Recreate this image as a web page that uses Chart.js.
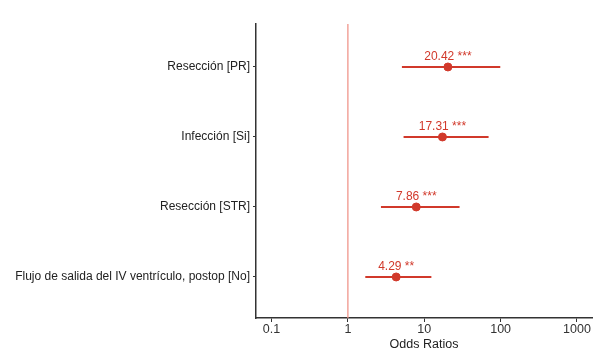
<!DOCTYPE html>
<html>
<head>
<meta charset="utf-8">
<script src="https://cdn.jsdelivr.net/npm/chart.js@4.4.1/dist/chart.umd.min.js"></script>
<style>
  html, body { margin: 0; padding: 0; background: #fff; }
  #wrap { width: 600px; height: 361px; }
</style>
</head>
<body>
<div id="wrap"><canvas id="chart" width="600" height="361"></canvas></div>
<script>
// data (bottom row first)
const categories = [
  "Flujo de salida del IV ventrículo, postop [No]",
  "Resección [STR]",
  "Infección [Si]",
  "Resección [PR]"
];
const oddsRatios = [4.29, 7.86, 17.31, 20.42];
const ciLow = [1.69, 2.71, 5.36, 5.1];
const ciHigh = [12.4, 29.0, 69.6, 99];
const stars = ["**", "***", "***", "***"];
const xTicks = [0.1, 1, 10, 100, 1000];

const red = "#d1392b";
const ctx = document.getElementById("chart").getContext("2d");

// one line dataset per confidence interval
const ciSets = categories.map((c, i) => ({
  type: "line",
  data: [{ x: ciLow[i], y: i + 1 }, { x: ciHigh[i], y: i + 1 }],
  borderColor: red,
  borderWidth: 2,
  pointRadius: 0,
  fill: false
}));

const refLine = {
  id: "refLine",
  beforeDatasetsDraw(chart) {
    const x = chart.scales.x.getPixelForValue(1);
    const a = chart.chartArea;
    const c = chart.ctx;
    c.save();
    c.strokeStyle = "#f0958b";
    c.lineWidth = 1.3;
    c.beginPath();
    c.moveTo(x, a.top);
    c.lineTo(x, a.bottom);
    c.stroke();
    c.restore();
  }
};

const valueLabels = {
  id: "valueLabels",
  afterDatasetsDraw(chart) {
    const c = chart.ctx;
    c.save();
    c.fillStyle = red;
    c.font = "12px 'Liberation Sans', Arial, sans-serif";
    c.textAlign = "center";
    c.textBaseline = "alphabetic";
    oddsRatios.forEach((v, i) => {
      const x = chart.scales.x.getPixelForValue(v);
      const y = chart.scales.y.getPixelForValue(i + 1);
      c.fillText(v.toFixed(2) + " " + stars[i], x, y - 7);
    });
    c.restore();
  }
};

new Chart(ctx, {
  type: "scatter",
  data: {
    datasets: [
      ...ciSets,
      {
        type: "scatter",
        data: oddsRatios.map((v, i) => ({ x: v, y: i + 1 })),
        backgroundColor: red,
        borderColor: red,
        pointRadius: 4,
        pointHoverRadius: 4
      }
    ]
  },
  options: {
    responsive: false,
    animation: false,
    layout: { padding: { top: 24, right: 8, left: 0, bottom: 0 } },
    plugins: { legend: { display: false }, tooltip: { enabled: false } },
    scales: {
      x: {
        type: "logarithmic",
        min: 0.0626,
        max: 1574,
        bounds: "data",
        afterBuildTicks: (s) => { s.ticks = xTicks.map(v => ({ value: v })); },
        afterFit: (s) => { s.height = 43; },
        ticks: {
          color: "#333",
          font: { family: "'Liberation Sans', Arial, sans-serif", size: 12.5 },
          padding: 0,
          maxRotation: 0,
          callback: (v) => String(v)
        },
        grid: { drawOnChartArea: false, drawTicks: true, tickLength: 4, color: "#333", lineWidth: 1 },
        border: { color: "#333", width: 1.5 },
        title: {
          display: true,
          text: "Odds Ratios",
          color: "#222",
          font: { family: "'Liberation Sans', Arial, sans-serif", size: 12.5 },
          padding: { top: 0, bottom: 9 }
        }
      },
      y: {
        type: "linear",
        min: 0.414,
        max: 4.614,
        afterBuildTicks: (s) => { s.ticks = categories.map((c, i) => ({ value: i + 1 })); },
        afterFit: (s) => { s.width = 256; },
        ticks: {
          color: "#222",
          font: { family: "'Liberation Sans', Arial, sans-serif", size: 12 },
          padding: 3,
          callback: (v) => categories[v - 1]
        },
        grid: { drawOnChartArea: false, drawTicks: true, tickLength: 3, color: "#333", lineWidth: 1 },
        border: { color: "#333", width: 1.5 }
      }
    }
  },
  plugins: [refLine, valueLabels]
});
</script>
</body>
</html>
